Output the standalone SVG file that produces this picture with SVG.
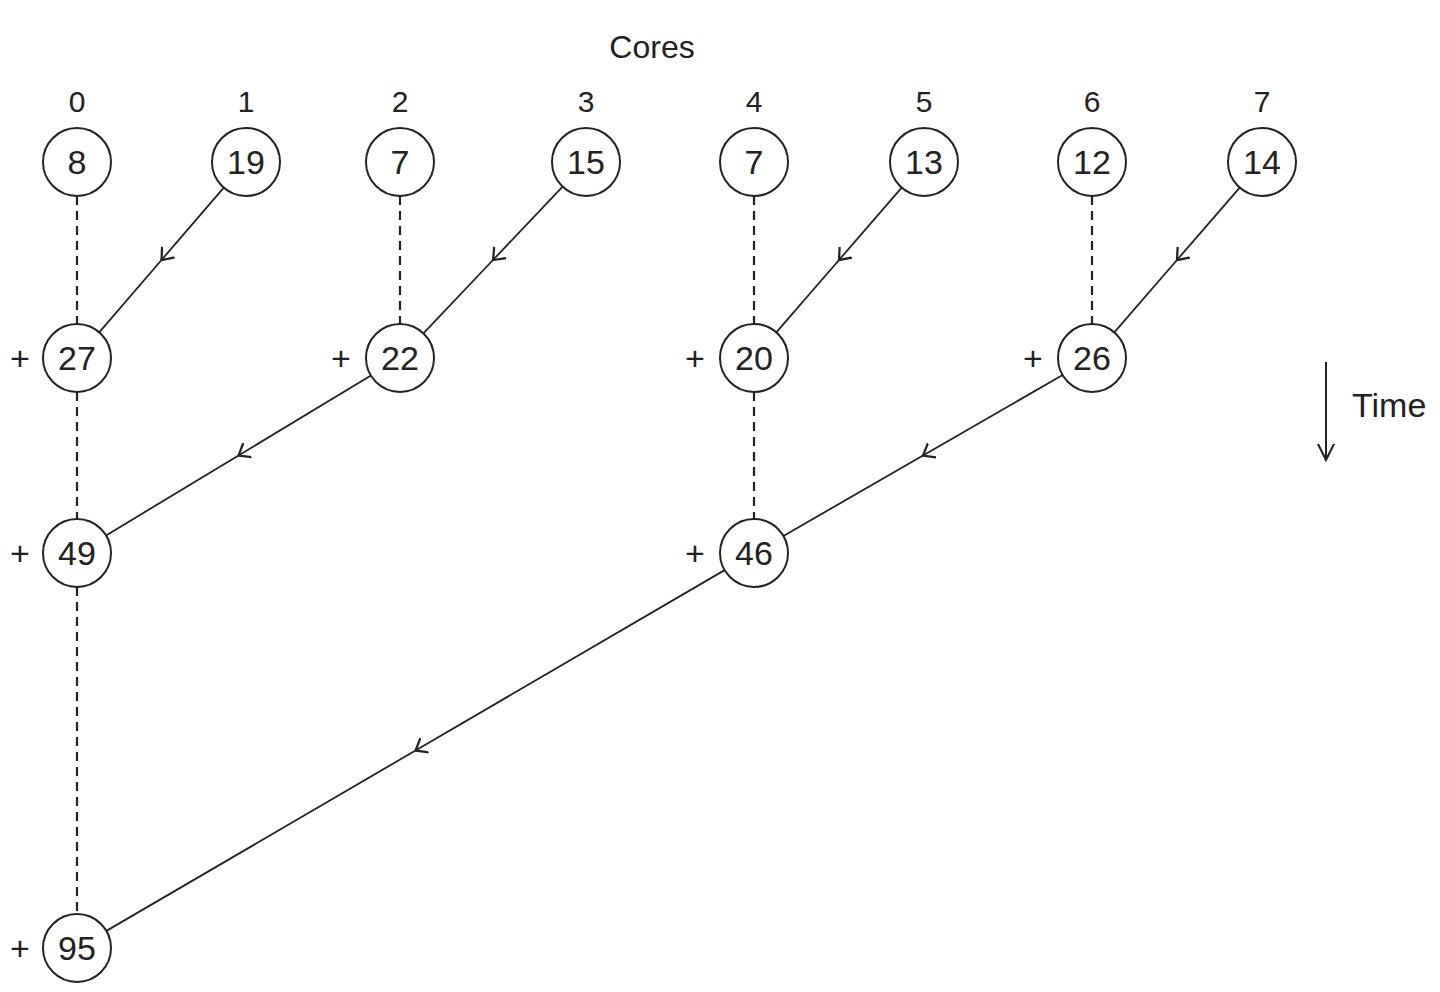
<svg xmlns="http://www.w3.org/2000/svg" width="1440" height="992" viewBox="0 0 1440 992">
<style>
text{font-family:"Liberation Sans",Arial,sans-serif;fill:#222}
.n circle{fill:#fff;stroke:#222;stroke-width:2}
.n text{font-size:34px;text-anchor:middle}
.lbl{font-size:30px;text-anchor:middle}
.plus{font-size:30px;text-anchor:middle}
.d{stroke:#222;stroke-width:2.2;stroke-dasharray:9 6;fill:none}
.s{stroke:#222;stroke-width:1.8;fill:none;marker-mid:url(#v)}
</style>
<defs>
<marker id="v" viewBox="0 0 12 12" refX="7" refY="6" markerWidth="18" markerHeight="18" markerUnits="userSpaceOnUse" orient="auto">
<path d="M0,0.5 L7,6 L0,11.5" fill="none" stroke="#222" stroke-width="1.5"/>
</marker>
<marker id="t" viewBox="0 0 12 12" refX="11" refY="6" markerWidth="18" markerHeight="18" markerUnits="userSpaceOnUse" orient="auto">
<path d="M0,0.5 L11,6 L0,11.5" fill="none" stroke="#222" stroke-width="1.4"/>
</marker>
</defs>
<rect width="1440" height="992" fill="#fff"/>
<text x="652" y="58" font-size="32" text-anchor="middle">Cores</text>
<g id="core-labels">
<text class="lbl" x="77" y="112">0</text>
<text class="lbl" x="246" y="112">1</text>
<text class="lbl" x="400" y="112">2</text>
<text class="lbl" x="586" y="112">3</text>
<text class="lbl" x="754" y="112">4</text>
<text class="lbl" x="924" y="112">5</text>
<text class="lbl" x="1092" y="112">6</text>
<text class="lbl" x="1262" y="112">7</text>
</g>
<g id="connectors">
<line class="d" x1="77" y1="196" x2="77" y2="324"/>
<line class="d" x1="77" y1="392" x2="77" y2="519"/>
<line class="d" x1="77" y1="587" x2="77" y2="914"/>
<line class="d" x1="400" y1="196" x2="400" y2="324"/>
<line class="d" x1="754" y1="196" x2="754" y2="324"/>
<line class="d" x1="754" y1="392" x2="754" y2="519"/>
<line class="d" x1="1092" y1="196" x2="1092" y2="324"/>
<polyline class="s" points="223.8,187.7 161.5,260 99.2,332.3"/>
<polyline class="s" points="562.6,186.7 493,260 423.4,333.3"/>
<polyline class="s" points="901.7,187.7 839,260 776.3,332.3"/>
<polyline class="s" points="1239.7,187.7 1177,260 1114.3,332.3"/>
<polyline class="s" points="370.9,375.6 238.5,455.5 106.1,535.4"/>
<polyline class="s" points="1062.6,375 923,455.5 783.4,536"/>
<polyline class="s" points="724.6,570.1 415.5,750.5 106.4,930.9"/>
</g>
<g id="n0" class="n"><circle cx="77" cy="162" r="34"/><text x="77" y="174">8</text></g>
<g id="n1" class="n"><circle cx="246" cy="162" r="34"/><text x="246" y="174">19</text></g>
<g id="n2" class="n"><circle cx="400" cy="162" r="34"/><text x="400" y="174">7</text></g>
<g id="n3" class="n"><circle cx="586" cy="162" r="34"/><text x="586" y="174">15</text></g>
<g id="n4" class="n"><circle cx="754" cy="162" r="34"/><text x="754" y="174">7</text></g>
<g id="n5" class="n"><circle cx="924" cy="162" r="34"/><text x="924" y="174">13</text></g>
<g id="n6" class="n"><circle cx="1092" cy="162" r="34"/><text x="1092" y="174">12</text></g>
<g id="n7" class="n"><circle cx="1262" cy="162" r="34"/><text x="1262" y="174">14</text></g>
<g id="s27" class="n"><text class="plus" x="20" y="370">+</text><circle cx="77" cy="358" r="34"/><text x="77" y="370">27</text></g>
<g id="s22" class="n"><text class="plus" x="341" y="370">+</text><circle cx="400" cy="358" r="34"/><text x="400" y="370">22</text></g>
<g id="s20" class="n"><text class="plus" x="695" y="370">+</text><circle cx="754" cy="358" r="34"/><text x="754" y="370">20</text></g>
<g id="s26" class="n"><text class="plus" x="1033" y="370">+</text><circle cx="1092" cy="358" r="34"/><text x="1092" y="370">26</text></g>
<g id="s49" class="n"><text class="plus" x="20" y="565">+</text><circle cx="77" cy="553" r="34"/><text x="77" y="565">49</text></g>
<g id="s46" class="n"><text class="plus" x="695" y="565">+</text><circle cx="754" cy="553" r="34"/><text x="754" y="565">46</text></g>
<g id="s95" class="n"><text class="plus" x="20" y="960">+</text><circle cx="77" cy="948" r="34"/><text x="77" y="960">95</text></g>
<g id="time">
<line x1="1326" y1="362" x2="1326" y2="460" stroke="#222" stroke-width="2" marker-end="url(#t)"/>
<text x="1352" y="417" font-size="34">Time</text>
</g>
</svg>
